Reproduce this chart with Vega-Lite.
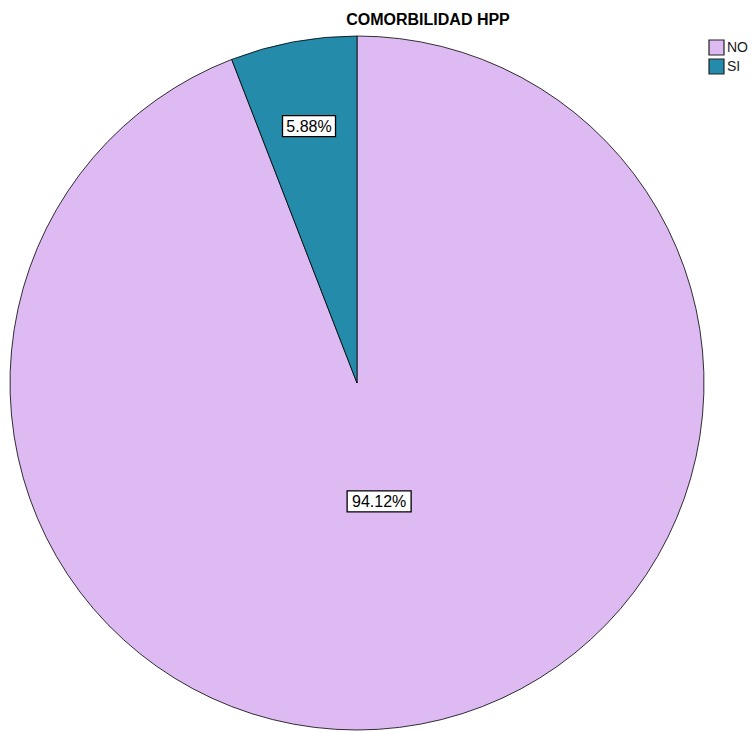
{
  "$schema": "https://vega.github.io/schema/vega-lite/v6.json",
  "width": 694,
  "height": 694,
  "autosize": {"type": "none"},
  "padding": {"left": 10, "top": 36, "right": 49, "bottom": 2},
  "background": "white",
  "view": {"stroke": null},
  "title": {"text": "COMORBILIDAD HPP", "anchor": "middle", "dx": 71, "offset": -7, "baseline": "alphabetic", "font": "Liberation Sans", "fontSize": 16, "fontWeight": "bold", "color": "#000000"},
  "data": {"values": [{"cat": "NO", "pct": 94.12}, {"cat": "SI", "pct": 5.88}]},
  "transform": [
    {"joinaggregate": [{"op": "sum", "field": "pct", "as": "total"}]},
    {"window": [{"op": "sum", "field": "pct", "as": "cum"}], "sort": [{"field": "cat"}], "frame": [null, 0]},
    {"calculate": "(datum.cum - datum.pct/2)/datum.total*2*PI", "as": "mid"},
    {"calculate": "0.78 - 0.46*datum.pct/datum.total", "as": "rf"},
    {"calculate": "sin(datum.mid)*datum.rf", "as": "lx"},
    {"calculate": "cos(datum.mid)*datum.rf", "as": "ly"},
    {"calculate": "format(datum.pct, '.2f') + '%'", "as": "label"}
  ],
  "layer": [
    {
      "mark": {"type": "arc", "stroke": "#000000", "strokeWidth": 0.8},
      "encoding": {
        "theta": {"field": "pct", "type": "quantitative", "stack": true},
        "color": {
          "field": "cat", "type": "nominal",
          "scale": {"domain": ["NO", "SI"], "range": ["#DEBAF2", "#258BAA"]},
          "legend": {"title": null, "orient": "none", "legendX": 698, "legendY": 3, "symbolType": "square", "symbolSize": 225, "symbolStrokeColor": "#222222", "symbolStrokeWidth": 1.2, "symbolOpacity": 1, "labelFontSize": 14, "labelFont": "Liberation Sans", "labelColor": "#1a1a1a", "rowPadding": -2, "labelOffset": 2, "padding": 0}
        },
        "order": {"field": "cat", "sort": "ascending"}
      }
    },
    {
      "mark": {"type": "point", "filled": true, "fill": "#ffffff", "stroke": "#000000", "strokeWidth": 1.3, "opacity": 1},
      "encoding": {
        "x": {"field": "lx", "type": "quantitative", "scale": {"domain": [-1, 1], "nice": false, "zero": false}, "axis": null},
        "y": {"field": "ly", "type": "quantitative", "scale": {"domain": [-1, 1], "nice": false, "zero": false}, "axis": null},
        "shape": {"condition": {"test": "datum.cat === 'NO'", "value": "M-1,-0.328H1V0.328H-1Z"}, "value": "M-1,-0.396H1V0.396H-1Z"},
        "size": {"condition": {"test": "datum.cat === 'NO'", "value": 4096}, "value": 2809}
      }
    },
    {
      "mark": {"type": "text", "font": "Liberation Sans", "fontSize": 16, "color": "#000000", "baseline": "middle", "align": "center", "dy": 1},
      "encoding": {
        "x": {"field": "lx", "type": "quantitative", "scale": {"domain": [-1, 1], "nice": false, "zero": false}, "axis": null},
        "y": {"field": "ly", "type": "quantitative", "scale": {"domain": [-1, 1], "nice": false, "zero": false}, "axis": null},
        "text": {"field": "label", "type": "nominal"}
      }
    }
  ]
}
